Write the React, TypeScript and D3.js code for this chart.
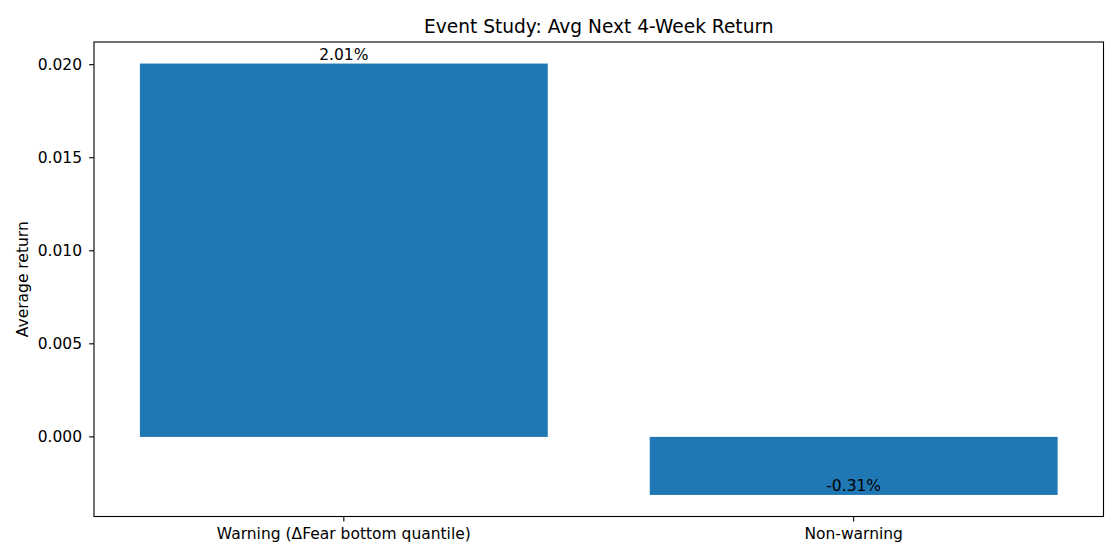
import React, { useEffect } from 'react'
import * as d3 from 'd3'

const categories = ['Warning (\u0394Fear bottom quantile)', 'Non-warning']
const avgReturns = [0.02006, -0.00312]
const yTicks = [0.0, 0.005, 0.01, 0.015, 0.02]

const W = 1120
const H = 560
const margin = { top: 42, right: 16.5, bottom: 43.5, left: 94 }
const FONT = '"DejaVu Sans", sans-serif'
const BAR = '#1f77b4'
const FS = 15.5

export default function App() {
  useEffect(() => {
    document.body.style.margin = '0'
  }, [])

  const innerW = W - margin.left - margin.right
  const innerH = H - margin.top - margin.bottom

  // matplotlib-style 5% margins around the data
  const n = categories.length
  const x = d3.scaleLinear().domain([-0.49, n - 1 + 0.49]).range([0, innerW])
  const lo = Math.min(0, d3.min(avgReturns) || 0)
  const hi = Math.max(0, d3.max(avgReturns) || 0)
  const pad = (hi - lo) * 0.05
  const y = d3.scaleLinear().domain([lo - pad, hi + pad]).range([innerH, 0])
  const barW = x(0.8) - x(0)
  const fmt = (v: number) => d3.format('.2%')(v).replace('\u2212', '-')

  return (
    <svg width={W} height={H} style={{ display: 'block', fontFamily: FONT }}>
      <rect width={W} height={H} fill="#fff" />
      <text x={margin.left + innerW / 2} y={margin.top - 9.5} textAnchor="middle" fontSize={18.6} fill="#000">
        Event Study: Avg Next 4-Week Return
      </text>
      <g transform={`translate(${margin.left},${margin.top})`}>
        {avgReturns.map((v, i) => (
          <rect
            key={i}
            x={x(i) - barW / 2}
            y={Math.min(y(v), y(0))}
            width={barW}
            height={Math.abs(y(v) - y(0))}
            fill={BAR}
          />
        ))}
        {avgReturns.map((v, i) => (
          <text key={'l' + i} x={x(i)} y={y(v) - 3.5} textAnchor="middle" fontSize={FS} fill="#000">
            {fmt(v)}
          </text>
        ))}
        <rect x={0} y={0} width={innerW} height={innerH} fill="none" stroke="#000" strokeWidth={1.1} />
        {yTicks.map(t => (
          <g key={t} transform={`translate(0,${y(t)})`}>
            <line x1={-4.9} x2={0} stroke="#000" strokeWidth={1.1} />
            <text x={-12} dy="0.35em" textAnchor="end" fontSize={FS} fill="#000">
              {d3.format('.3f')(t)}
            </text>
          </g>
        ))}
        {categories.map((c, i) => (
          <g key={c} transform={`translate(${x(i)},${innerH})`}>
            <line y1={0} y2={4.9} stroke="#000" strokeWidth={1.1} />
            <text y={9.7} dy="0.8em" textAnchor="middle" fontSize={FS} fill="#000">
              {c}
            </text>
          </g>
        ))}
        <text
          transform={`translate(${-66},${innerH / 2}) rotate(-90)`}
          textAnchor="middle"
          fontSize={FS}
          fill="#000"
        >
          Average return
        </text>
      </g>
    </svg>
  )
}
